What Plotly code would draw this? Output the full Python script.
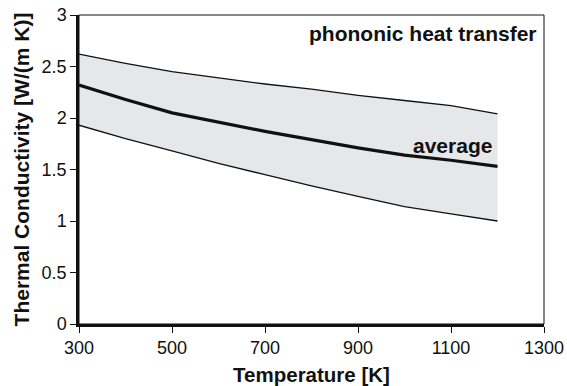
import plotly.graph_objects as go

temperature = [300, 400, 500, 600, 700, 800, 900, 1000, 1100, 1200]
upper = [2.62, 2.53, 2.45, 2.39, 2.33, 2.28, 2.22, 2.17, 2.12, 2.04]
average = [2.32, 2.18, 2.05, 1.96, 1.87, 1.79, 1.71, 1.64, 1.59, 1.53]
lower = [1.93, 1.80, 1.68, 1.56, 1.45, 1.34, 1.24, 1.14, 1.07, 1.00]

x_ticks = [300, 500, 700, 900, 1100, 1300]
y_ticks = [0, 0.5, 1, 1.5, 2, 2.5, 3]
y_tick_labels = ["0", "0.5", "1", "1.5", "2", "2.5", "3"]

FONT = "Liberation Sans, Arial, Helvetica, sans-serif"

fig = go.Figure()
fig.add_trace(go.Scatter(x=temperature, y=lower, mode="lines",
                         line=dict(color="#111111", width=1.3), showlegend=False))
fig.add_trace(go.Scatter(x=temperature, y=upper, mode="lines", fill="tonexty",
                         fillcolor="#e6e7e8",
                         line=dict(color="#111111", width=1.3), showlegend=False))
fig.add_trace(go.Scatter(x=temperature, y=average, mode="lines",
                         line=dict(color="#111111", width=3.2), showlegend=False))

fig.add_annotation(x=1, y=1, xref="paper", yref="paper", xanchor="right", yanchor="top",
                   xshift=-5, yshift=-5,
                   text="<b>phononic heat transfer</b>", showarrow=False,
                   font=dict(family=FONT, size=21, color="#111111"))
fig.add_annotation(x=1200, y=1.73, xref="x", yref="y", xanchor="right", yanchor="middle",
                   xshift=-4,
                   text="<b>average</b>", showarrow=False,
                   font=dict(family=FONT, size=21, color="#111111"))

fig.add_shape(type="rect", xref="paper", yref="paper", x0=0, y0=0, x1=1, y1=1,
              line=dict(color="#111111", width=1), layer="above")

fig.update_layout(
    width=567, height=386,
    margin=dict(l=79, r=23, t=15, b=62),
    paper_bgcolor="white", plot_bgcolor="white",
    font=dict(family=FONT, size=18, color="#111111"),
    xaxis=dict(range=[300, 1300], tickvals=x_ticks, showgrid=False, zeroline=False,
               showline=True, linecolor="#111111", linewidth=2.5, automargin=False,
               ticks="outside", ticklen=6, tickwidth=1.2, tickcolor="#111111",
               title=dict(text="<b>Temperature [K]</b>", font=dict(size=20.5), standoff=11),
               tickfont=dict(size=18)),
    yaxis=dict(range=[0, 3], tickvals=y_ticks, ticktext=y_tick_labels, showgrid=False,
               zeroline=False, showline=True, linecolor="#111111", linewidth=2.5,
               automargin=False,
               ticks="outside", ticklen=6, tickwidth=1.2, tickcolor="#111111",
               title=dict(text="<b>Thermal Conductivity [W/(m K)]</b>", font=dict(size=21), standoff=7),
               tickfont=dict(size=18)),
)

fig.write_html("out.html")
